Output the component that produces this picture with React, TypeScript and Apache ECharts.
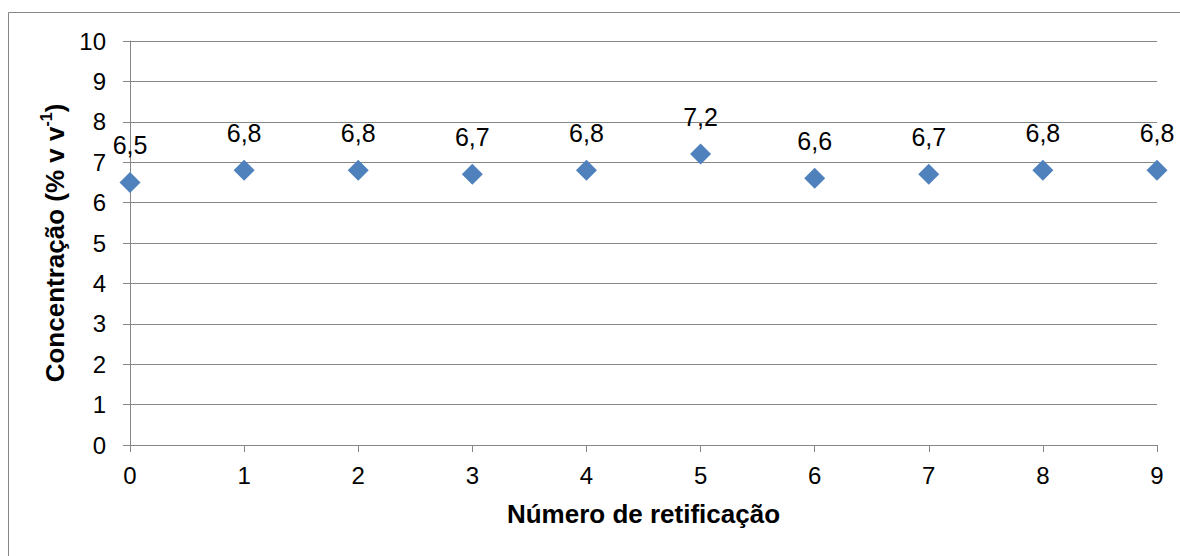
import React, { useEffect, useRef } from "react";
import * as echarts from "echarts";

// Rectification number (x) and ethanol concentration in % v/v (y)
const retificacao = [0, 1, 2, 3, 4, 5, 6, 7, 8, 9];
const concentracao = [6.5, 6.8, 6.8, 6.7, 6.8, 7.2, 6.6, 6.7, 6.8, 6.8];

const FONT = "'Liberation Sans', Arial, sans-serif";
const GRAY = "#868686";

export default function App() {
  const ref = useRef<HTMLDivElement>(null);

  useEffect(() => {
    document.body.style.margin = "0";
    if (!ref.current) return;
    const chart = echarts.init(ref.current, undefined, { renderer: "svg" });
    chart.setOption({
      animation: false,
      backgroundColor: "#ffffff",
      textStyle: { fontFamily: FONT },
      grid: { left: 130, right: 23, top: 41, bottom: 111 },
      graphic: [
        {
          type: "rect",
          left: 6,
          top: 10,
          shape: { width: 1200, height: 600 },
          style: { fill: "none", stroke: GRAY, lineWidth: 1 },
          silent: true,
        },
      ],
      xAxis: {
        type: "value",
        min: 0,
        max: 9,
        interval: 1,
        name: "Número de retificação",
        nameLocation: "middle",
        nameGap: 56,
        nameTextStyle: { fontFamily: FONT, fontSize: 26, fontWeight: "bold", color: "#000" },
        axisLine: { show: true, lineStyle: { color: GRAY, width: 1 } },
        axisTick: { show: true, length: 7, lineStyle: { color: GRAY } },
        axisLabel: { fontFamily: FONT, fontSize: 24, color: "#000", margin: 18 },
        splitLine: { show: false },
      },
      yAxis: {
        type: "value",
        min: 0,
        max: 10,
        interval: 1,
        name: "{t|Concentração (% v v}{s|-1}{t|)}",
        nameLocation: "middle",
        nameGap: 62,
        nameRotate: 90,
        nameTextStyle: {
          fontFamily: FONT,
          fontSize: 26,
          fontWeight: "bold",
          color: "#000",
          rich: {
            t: { fontFamily: FONT, fontSize: 26, fontWeight: "bold", color: "#000", verticalAlign: "bottom", lineHeight: 30 },
            s: { fontFamily: FONT, fontSize: 16, fontWeight: "bold", color: "#000", verticalAlign: "top", lineHeight: 30 },
          },
        },
        axisLine: { show: true, lineStyle: { color: GRAY, width: 1 } },
        axisTick: { show: true, length: 7, lineStyle: { color: GRAY } },
        axisLabel: { fontFamily: FONT, fontSize: 24, color: "#000", margin: 24 },
        splitLine: { show: true, lineStyle: { color: GRAY, width: 1 } },
      },
      series: [
        {
          type: "scatter",
          data: retificacao.map((x, i) => [x, concentracao[i]]),
          symbol: "diamond",
          symbolSize: 21,
          itemStyle: { color: "#4F81BD", opacity: 1 },
          label: {
            show: true,
            position: "top",
            distance: 14,
            fontFamily: FONT,
            fontSize: 25,
            color: "#000",
            formatter: (p: any) => String(p.value[1].toFixed(1)).replace(".", ","),
          },
        },
      ],
    });
    return () => chart.dispose();
  }, []);

  return <div ref={ref} style={{ width: 1180, height: 556 }} />;
}
